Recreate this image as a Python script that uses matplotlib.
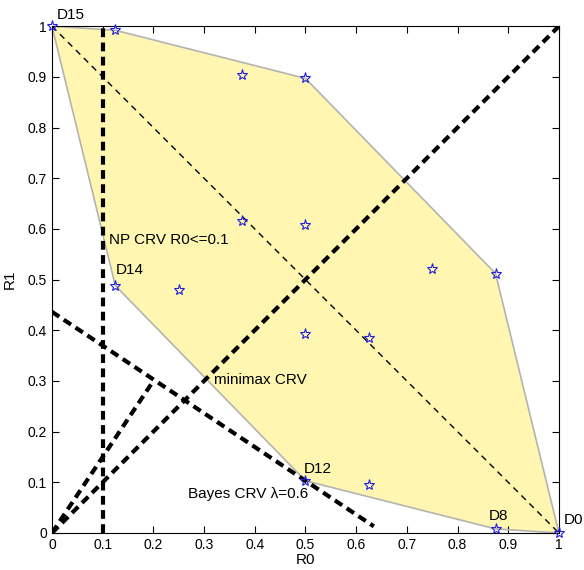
import numpy as np
import matplotlib
matplotlib.use("Agg")
import matplotlib.pyplot as plt

plt.rcParams['font.family'] = ['Liberation Sans', 'DejaVu Sans']

# risk points of the 16 deterministic rules (R0, R1)
r0 = [0, 0.125, 0.375, 0.5, 0.375, 0.5, 0.75, 0.875,
      0.125, 0.25, 0.5, 0.625, 0.5, 0.625, 0.875, 1.0]
r1 = [1.0, 0.992, 0.904, 0.897, 0.616, 0.608, 0.520, 0.512,
      0.488, 0.480, 0.392, 0.384, 0.103, 0.095, 0.008, 0.0]

# convex hull vertices (indices into r0/r1)
hull = [0, 1, 3, 7, 15, 14, 12, 8, 0]

labels = {0: "D15", 8: "D14", 12: "D12", 14: "D8", 15: "D0"}
label_pos = {0: (0.01, 1.022), 8: (0.126, 0.519), 12: (0.497, 0.126),
             14: (0.862, 0.034), 15: (1.01, 0.026)}

lam = 0.6
np_limit = 0.1

fig = plt.figure(figsize=(5.84, 5.70), dpi=100)
ax = fig.add_axes([0.089, 0.065, 0.868, 0.889])

hx = [r0[i] for i in hull]
hy = [r1[i] for i in hull]
ax.fill(hx, hy, color='#fff7b1', zorder=1)
ax.plot(hx, hy, color='#b4b4b4', lw=1.2, zorder=2)

# anti-diagonal R0 + R1 = 1
ax.plot([0, 1], [1, 0], 'k--', lw=1, dashes=(4.5, 3.6), zorder=3)

thick = dict(color='k', ls='--', lw=3, dashes=(2.1, 1.3), zorder=4)

# NP constraint
ax.plot([np_limit, np_limit], [0, 1], **thick)
# minimax line R0 = R1
ax.plot([0, 1], [0, 1], **thick)

# Bayes line through D12: (1-lam) R0 + lam R1 = c
c = (1 - lam) * r0[12] + lam * r1[12]
bx = np.array([0, 0.635])
by = (c - (1 - lam) * bx) / lam
ax.plot(bx, by, **thick)
# normal from origin to Bayes line
s = lam / (1 - lam)
xi = c / ((1 - lam) + lam * s)
ax.plot([0, xi * 0.97], [0, s * xi * 0.97], **thick)

ax.plot(r0, r1, '*', ms=8, mfc='none', mec='#2020e0', mew=0.8,
        zorder=5, clip_on=False)

for i, name in labels.items():
    ax.text(label_pos[i][0], label_pos[i][1], name, fontsize=11,
            va='center', ha='left', zorder=6)

ax.text(0.112, 0.578, "NP CRV R0<=0.1", fontsize=11, va='center', zorder=6)
ax.text(0.32, 0.302, "minimax CRV", fontsize=11, va='center', zorder=6)
ax.text(0.268, 0.077, "Bayes CRV \u03bb=0.6", fontsize=11, va='center', zorder=6)

ticks = np.round(np.arange(0, 1.01, 0.1), 1)
ticklabels = ['0'] + ['%.1f' % t for t in ticks[1:-1]] + ['1']
ax.set_xlim(0, 1)
ax.set_ylim(0, 1)
ax.set_xticks(ticks)
ax.set_xticklabels(ticklabels)
ax.set_yticks(ticks)
ax.set_yticklabels(ticklabels)
ax.tick_params(direction='in', top=True, right=True, length=5, labelsize=10)
ax.set_xlabel("R0", fontsize=11, labelpad=1)
ax.set_ylabel("R1", fontsize=11, labelpad=8)

fig.savefig("out.png", dpi=100)
